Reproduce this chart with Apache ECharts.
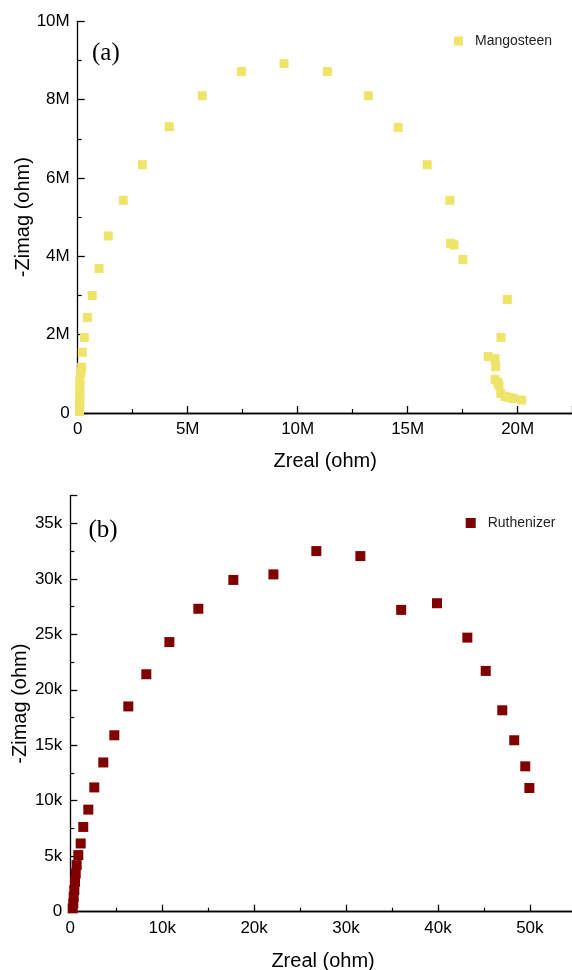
<!DOCTYPE html>
<html>
<head>
<meta charset="utf-8">
<script src="https://cdn.jsdelivr.net/npm/echarts@6/dist/echarts.min.js"></script>
<style>
html,body{margin:0;padding:0;background:#fff;}
#main{width:572px;height:970px;}
</style>
</head>
<body>
<div id="main"></div>
<script>
// Panel (a): Mangosteen, values in MΩ
const mangoZreal = [0.08,0.08,0.09,0.09,0.09,0.10,0.10,0.10,0.10,0.14,0.18,0.21,0.30,0.44,0.66,0.97,1.39,2.07,2.94,4.16,5.66,7.44,9.38,11.35,13.21,14.57,15.89,16.92,16.95,17.10,17.51,19.53,19.24,18.66,18.97,19.00,18.97,19.10,19.15,19.23,19.42,19.60,19.80,20.18];
const mangoZimag = [0.04,0.10,0.18,0.27,0.37,0.48,0.60,0.72,0.85,1.03,1.17,1.55,1.93,2.44,3.00,3.69,4.52,5.43,6.34,7.31,8.10,8.72,8.92,8.72,8.10,7.29,6.34,5.43,4.33,4.29,3.92,2.90,1.93,1.44,1.39,1.18,0.86,0.78,0.71,0.50,0.42,0.40,0.37,0.33];
// Panel (b): Ruthenizer, values in kΩ
const ruthZreal = [0.26,0.33,0.37,0.44,0.51,0.59,0.69,0.87,1.13,1.41,1.96,2.61,3.59,4.79,6.31,8.27,10.78,13.93,17.74,22.10,26.77,31.56,36.00,39.90,43.20,45.20,47.00,48.30,49.50,49.95];
const ruthZimag = [0.30,0.75,1.35,1.95,2.70,3.45,4.20,5.10,6.15,7.64,9.20,11.20,13.45,15.90,18.50,21.40,24.30,27.30,29.90,30.40,32.50,32.05,27.20,27.80,24.70,21.70,18.15,15.45,13.10,11.15];

const seriesNames = ['Mangosteen','Ruthenizer'];
const panelLabels = ['(a)','(b)'];
const axisTitles = {x:'Zreal (ohm)', y:'-Zimag (ohm)'};
const unitSuffix = ['M','k'];

const zip = (a,b)=>a.map((v,i)=>[v,b[i]]);
const chart = echarts.init(document.getElementById('main'));
const font = '"Liberation Sans", Arial, sans-serif';
const axisLineStyle = {color:'#000', width:1.3};

function fmt(step, suffix){
  return function(v){
    if (Math.abs(v/step - Math.round(v/step)) > 1e-6) return '';
    if (v === 0) return '0';
    return (Math.round(v*1000)/1000) + suffix;
  };
}
function makeX(gi, max, interval, suffix, gap){
  return {
    gridIndex: gi, type:'value', min:0, max:max, interval:interval,
    name: axisTitles.x, nameLocation:'middle', nameGap: gap, nameMoveOverlap:false,
    nameTextStyle:{fontFamily:font, fontSize:20, color:'#000'},
    axisLine:{show:true, onZero:false, lineStyle:axisLineStyle},
    axisTick:{show:true, inside:true, length:7, lineStyle:axisLineStyle},
    minorTick:{show:true, splitNumber:2, length:4, lineStyle:{color:'#000', width:1.2}},
    axisLabel:{fontFamily:font, fontSize:17, color:'#000', margin:8, formatter:fmt(interval,suffix), showMaxLabel:false},
    splitLine:{show:false}
  };
}
function makeXTop(gi, max){
  return {
    gridIndex: gi, type:'value', position:'top', min:0, max:max,
    axisLine:{show:true, lineStyle:axisLineStyle},
    axisTick:{show:false}, axisLabel:{show:false}, splitLine:{show:false}
  };
}
function makeY(gi, max, interval, suffix, gap){
  return {
    gridIndex: gi, type:'value', min:0, max:max, interval:interval,
    name: axisTitles.y, nameLocation:'middle', nameGap: gap, nameRotate:90, nameMoveOverlap:false,
    nameTextStyle:{fontFamily:font, fontSize:20, color:'#000'},
    axisLine:{show:true, onZero:false, lineStyle:axisLineStyle},
    axisTick:{show:true, inside:true, length:7, lineStyle:axisLineStyle},
    minorTick:{show:true, splitNumber:2, length:4, lineStyle:{color:'#000', width:1.2}},
    axisLabel:{fontFamily:font, fontSize:17, color:'#000', margin:8, formatter:fmt(interval,suffix)},
    splitLine:{show:false}
  };
}

chart.setOption({
  animation:false,
  backgroundColor:'#fff',
  grid:[
    {left:77.7, top:21.3, width:495, height:391.7, containLabel:false, outerBoundsMode:'none'},
    {left:70.3, top:495.6, width:505.5, height:416.1, containLabel:false, outerBoundsMode:'none'}
  ],
  xAxis:[ makeX(0, 22.5, 5, unitSuffix[0], 38), makeXTop(0, 22.5), makeX(1, 55, 10, unitSuffix[1], 40), makeXTop(1, 55) ],
  yAxis:[ makeY(0, 10, 2, unitSuffix[0], 44), makeY(1, 37.5, 5, unitSuffix[1], 40) ],
  legend:[
    {data:[seriesNames[0]], left:454, top:34, padding:0, icon:'rect', itemWidth:9, itemHeight:9,
     textStyle:{fontFamily:font, fontSize:14, color:'#222', padding:[0,0,0,7]}},
    {data:[seriesNames[1]], left:465.7, top:516, padding:0, icon:'rect', itemWidth:10, itemHeight:10,
     textStyle:{fontFamily:font, fontSize:14, color:'#222', padding:[0,0,0,7]}}
  ],
  graphic:[
    {type:'text', left:92, top:41, style:{text:panelLabels[0], font:'25px "Liberation Serif", "Times New Roman", serif', fill:'#000'}},
    {type:'text', left:88.5, top:517.5, style:{text:panelLabels[1], font:'25px "Liberation Serif", "Times New Roman", serif', fill:'#000'}}
  ],
  series:[
    {name:seriesNames[0], type:'scatter', xAxisIndex:0, yAxisIndex:0, symbol:'rect', symbolSize:9,
     itemStyle:{color:'#EFE46A', opacity:1}, data:zip(mangoZreal, mangoZimag), clip:false},
    {name:seriesNames[1], type:'scatter', xAxisIndex:2, yAxisIndex:1, symbol:'rect', symbolSize:10,
     itemStyle:{color:'#800000', opacity:1}, data:zip(ruthZreal, ruthZimag), clip:false}
  ]
});
</script>
</body>
</html>
